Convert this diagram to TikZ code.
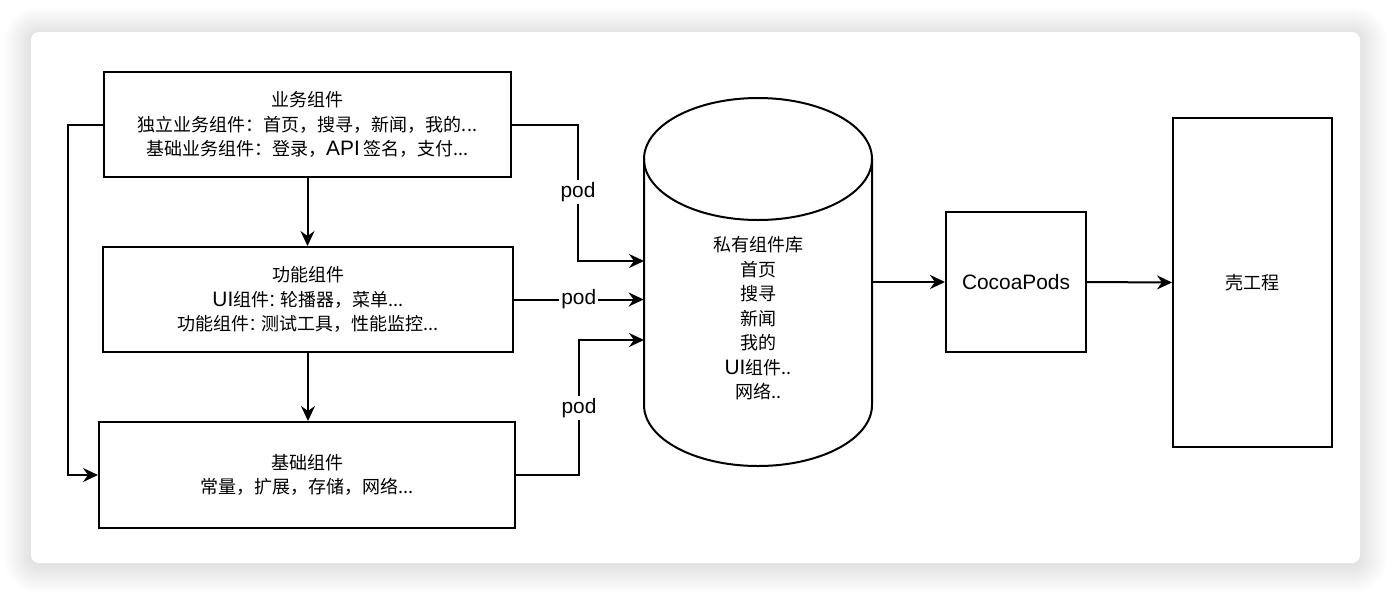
\documentclass[tikz,border=0pt]{standalone}
\usepackage{fontspec}
\setmainfont{Noto Sans CJK SC}
\newfontfamily\lat[Scale=1.16]{Liberation Sans}
\usetikzlibrary{arrows.meta}
\begin{document}
\begin{tikzpicture}[x=0.5pt,y=-0.5pt,
  box/.style={draw=black, line width=1pt, fill=white, align=center, inner sep=0pt,
    font=\fontsize{9}{12.25}\selectfont},
  txt/.style={align=center, inner sep=0pt, font=\fontsize{9}{12.25}\selectfont},
  arr/.style={draw=black, line width=1pt, -{Stealth[length=7.5pt,width=7pt,inset=2.5pt]}},
  plain/.style={draw=black, line width=1pt},
  podlbl/.style={fill=white, inner sep=1pt, font=\lat\fontsize{9}{11}\selectfont}]
% canvas
\useasboundingbox (0,0) rectangle (1392,596);
\fill[white] (0,0) rectangle (1392,596);
\foreach \k in {1,...,28}{
  \fill[black, opacity=0.005, rounded corners={(4+\k*0.5)*1pt}] (31-\k,34-\k) rectangle (1360+\k,565+\k);
}
\fill[white, rounded corners=4pt] (31,32) rectangle (1360,563);
% left boxes
\node[box, minimum width=203.5pt, minimum height=52.5pt] (b1) at (307.5,124.5)
  {业务组件\\独立业务组件：首页，搜寻，新闻，我的...\\基础业务组件：登录，{\lat API} 签名，支付...};
\node[box, minimum width=205pt, minimum height=52.5pt] (b2) at (308,299.5)
  {功能组件\\{\lat UI}组件{\lat :} 轮播器，菜单...\\功能组件{\lat :} 测试工具，性能监控...};
\node[box, minimum width=208pt, minimum height=53pt] (b3) at (307,475)
  {基础组件\\常量，扩展，存储，网络...};
% cylinder
\node[minimum width=114pt, minimum height=184pt, inner sep=0pt] (repo) at (758,282) {};
\filldraw[plain, fill=white] (644,159) -- (644,405)
  arc[start angle=180, end angle=360, x radius=57pt, y radius=30.5pt] -- (872,159);
\draw[plain] (758,159) ellipse [x radius=57pt, y radius=30.5pt];
\node[txt] (repotxt) at (758,318.5) {私有组件库\\首页\\搜寻\\新闻\\我的\\{\lat UI}组件..\\网络..};
\coordinate (r1) at (644,261);
\coordinate (r3) at (644,340);
% right boxes
\node[box, minimum width=70pt, minimum height=70pt] (cp) at (1016,282) {\lat CocoaPods};
\node[box, minimum width=79.5pt, minimum height=164.5pt] (shell) at (1252.5,282.5) {壳工程};
% connectors
\draw[arr] (b1.south) -- (b1.south |- b2.north);
\draw[arr] (b2.south) -- (b2.south |- b3.north);
\draw[arr] (b1.west) -- ++(-35,0) |- (b3.west);
\draw[arr] (b1.east) -| (578,192) node[podlbl] {pod} |- (r1);
\draw[arr] (b2.east) -- node[podlbl] {pod} (b2.east -| repo.west);
\draw[arr] (b3.east) -| (579,408) node[podlbl] {pod} |- (r3);
\draw[arr] (repo.east) -- (cp.west);
\draw[arr] (cp.east) -- (shell.west);
\end{tikzpicture}
\end{document}
